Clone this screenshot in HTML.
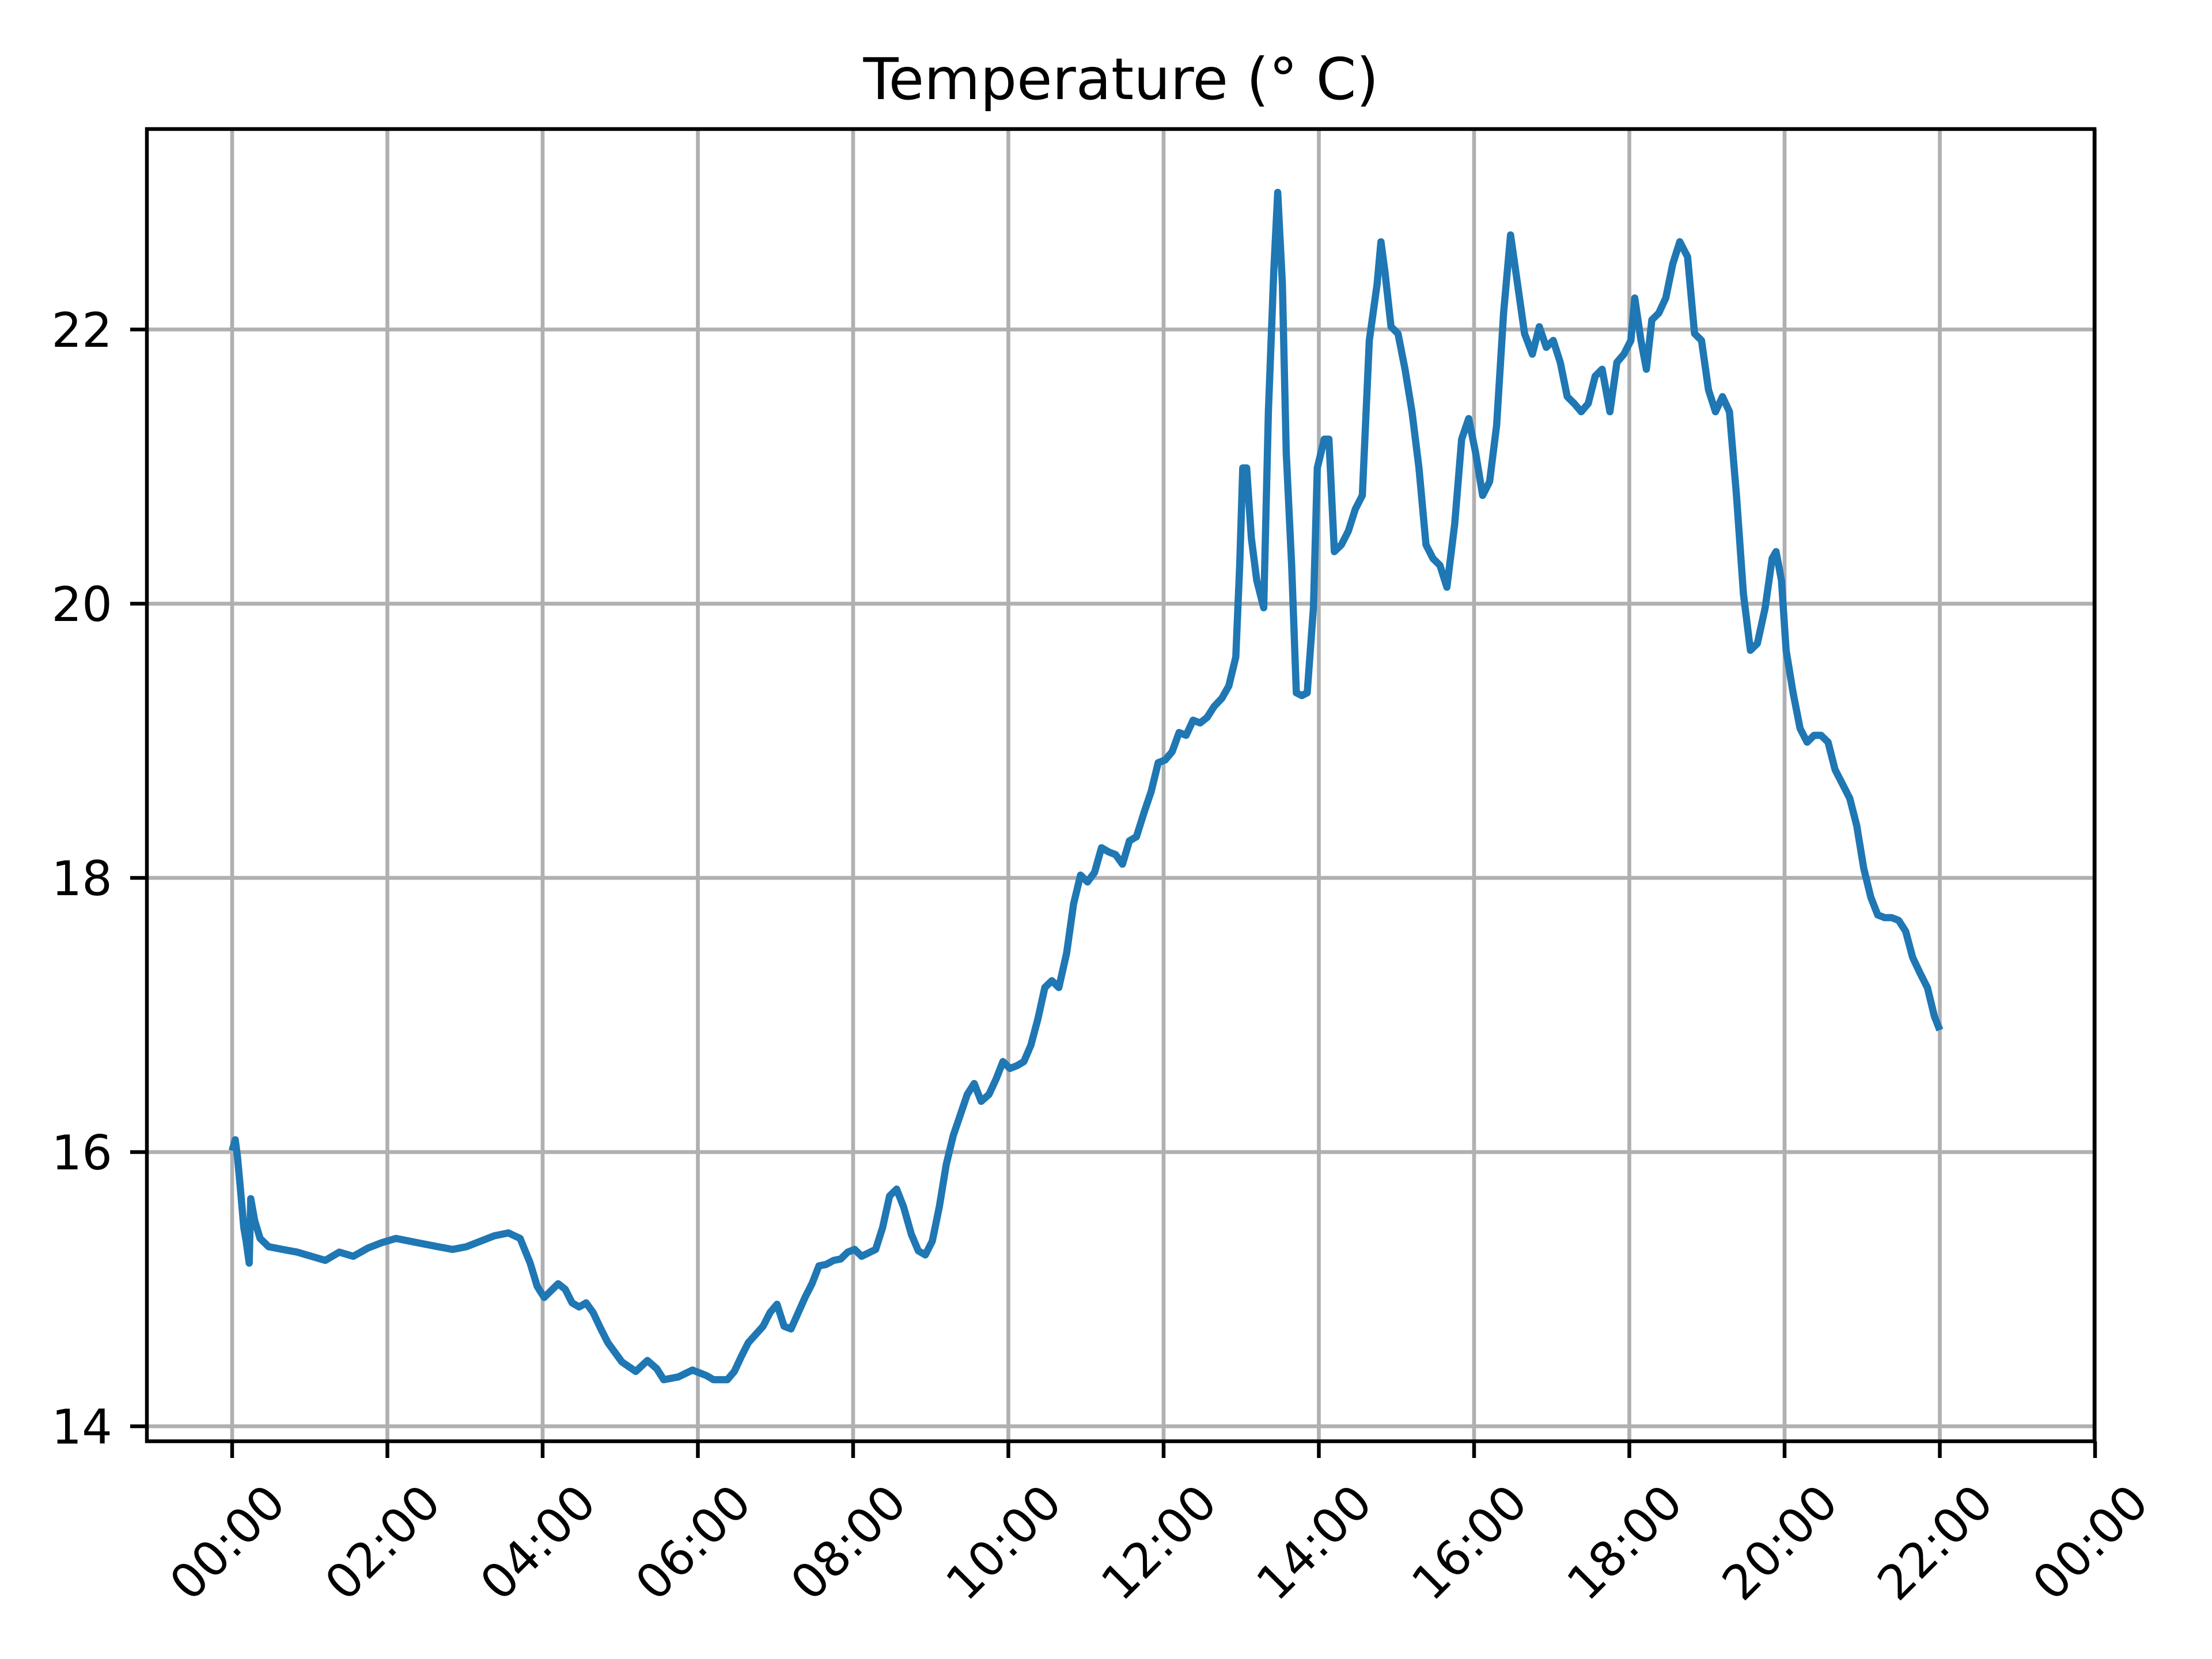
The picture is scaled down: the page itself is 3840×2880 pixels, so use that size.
<!DOCTYPE html>
<html><head><meta charset="utf-8"><style>
html,body{margin:0;padding:0;background:#fff;}
svg{display:block;font-family:"DejaVu Sans","Liberation Sans",sans-serif;}
</style></head><body>
<svg id="chart" width="3840" height="2880" viewBox="0 0 3840 2880" xmlns="http://www.w3.org/2000/svg">
<rect width="3840" height="2880" fill="#fff"/>
<text x="1946" y="172" font-size="100" text-anchor="middle" fill="#000">Temperature (° C)</text>
<g id="grid"></g>
<g id="series"></g>
<rect x="255" y="224" width="3381" height="2278" fill="none" stroke="#000" stroke-width="6.5"/>
<g id="axes"></g>
</svg>
<script>
const hours = [0,0.04,0.07,0.11,0.15,0.18,0.22,0.24,0.29,0.36,0.47,0.65,0.84,1.02,1.2,1.38,1.56,1.75,1.93,2.11,2.29,2.47,2.65,2.84,3.02,3.2,3.38,3.56,3.71,3.84,3.93,4.02,4.11,4.2,4.29,4.38,4.47,4.56,4.65,4.75,4.84,5.02,5.2,5.35,5.47,5.56,5.75,5.93,6.11,6.2,6.38,6.47,6.56,6.65,6.84,6.93,7.02,7.11,7.2,7.38,7.47,7.56,7.65,7.75,7.84,7.93,8.02,8.11,8.29,8.38,8.47,8.56,8.65,8.75,8.84,8.93,9.02,
9.11,9.2,9.29,9.38,9.47,9.56,9.65,9.75,9.84,9.93,10.02,10.11,10.2,10.29,10.38,10.47,10.56,10.65,10.75,10.84,10.93,11.02,11.11,11.2,11.29,11.38,11.47,11.56,11.65,11.75,11.84,11.93,12.02,12.11,12.2,12.29,12.38,12.47,12.56,12.65,12.75,12.84,12.93,
12.98,13.02,13.07,13.13,13.2,13.29,13.35,13.42,13.47,13.53,13.58,13.65,13.71,13.78,13.85,13.93,13.98,14.07,14.13,14.2,14.29,14.38,14.47,14.56,14.65,14.75,14.8,14.85,14.93,15.02,15.11,15.2,15.29,15.38,15.47,15.56,15.65,15.75,15.84,15.93,16.02,16.11,16.2,16.29,16.38,16.47,16.56,16.65,16.75,16.84,16.93,17.02,17.11,17.2,17.29,17.38,17.47,17.56,17.65,17.75,17.84,17.93,18.02,18.07,18.15,18.22,18.29,18.38,18.47,18.56,18.65,18.75,18.84,18.93,19.02,19.11,19.2,19.29,19.38,19.47,19.56,19.65,19.75,19.84,19.89,19.96,20.02,20.11,20.2,20.29,20.38,20.47,20.56,20.65,20.75,20.84,20.93,21.02,21.11,21.2,21.29,21.38,21.47,21.56,21.65,21.75,21.84,21.93,22.0];
const temps = [16.01,16.09,15.96,15.71,15.45,15.35,15.19,15.66,15.50,15.37,15.31,15.29,15.27,15.24,15.21,15.27,15.24,15.30,15.34,15.37,15.35,15.33,15.31,15.29,15.31,15.35,15.39,15.41,15.37,15.19,15.02,14.94,14.99,15.04,15.00,14.90,14.87,14.90,14.83,14.71,14.61,14.47,14.40,14.48,14.42,14.34,14.36,14.41,14.37,14.34,14.34,14.40,14.51,14.61,14.73,14.83,14.89,14.73,14.71,14.94,15.04,15.17,15.18,15.21,15.22,15.27,15.29,15.24,15.29,15.45,15.68,15.73,15.60,15.40,15.28,15.25,15.35,
15.60,15.91,16.12,16.27,16.42,16.50,16.37,16.42,16.53,16.66,16.61,16.63,16.66,16.78,16.97,17.20,17.25,17.20,17.45,17.81,18.02,17.97,18.04,18.22,18.19,18.17,18.10,18.27,18.30,18.48,18.63,18.84,18.86,18.92,19.06,19.04,19.15,19.13,19.17,19.25,19.31,19.40,19.61,
20.28,20.99,20.99,20.48,20.17,19.97,21.40,22.43,23.00,22.33,21.10,20.28,19.35,19.33,19.35,19.97,20.99,21.20,21.20,20.38,20.43,20.53,20.69,20.79,21.92,22.33,22.64,22.43,22.02,21.97,21.71,21.40,20.99,20.43,20.33,20.28,20.12,20.58,21.20,21.35,21.10,20.79,20.89,21.30,22.12,22.69,22.33,21.97,21.82,22.02,21.87,21.92,21.76,21.51,21.46,21.40,21.46,21.66,21.71,21.40,21.76,21.82,21.92,22.23,21.92,21.71,22.07,22.12,22.23,22.48,22.64,22.53,21.97,21.92,21.56,21.40,21.51,21.40,20.79,20.07,19.66,19.71,19.97,20.33,20.38,20.17,19.66,19.35,19.09,18.99,19.04,19.04,18.99,18.79,18.68,18.58,18.38,18.07,17.86,17.73,17.71,17.71,17.69,17.61,17.42,17.30,17.20,16.99,16.89];
const yTicks = [14,16,18,20,22];
const xTickHours = [0,2,4,6,8,10,12,14,16,18,20,22,24];
const xTickLabels = ["00:00","02:00","04:00","06:00","08:00","10:00","12:00","14:00","16:00","18:00","20:00","22:00","00:00"];

const NS = "http://www.w3.org/2000/svg";
const X = h => 403 + h * 134.75;
const Y = v => 572 + (22 - v) * 238;
function mk(tag, attrs, parent){const e=document.createElementNS(NS,tag);for(const k in attrs)e.setAttribute(k,attrs[k]);parent.appendChild(e);return e;}
const grid=document.getElementById('grid'), axes=document.getElementById('axes'), series=document.getElementById('series');

xTickHours.forEach((h,i)=>{
  const gx=mk('line',{x1:X(h),x2:X(h),y1:224,y2:2502,stroke:'#b0b0b0','stroke-width':6.7},grid);
  
  
  const t=mk('line',{x1:X(h),x2:X(h),y1:2502,y2:2531,stroke:'#000','stroke-width':6.5},axes);
  
  
  const cx=X(h)-8, cy=2678;
  const lb=mk('text',{x:cx,y:cy,'font-size':83,'text-anchor':'middle','dominant-baseline':'central',transform:`rotate(-45 ${cx} ${cy})`,fill:'#000'},axes);
  lb.textContent=xTickLabels[i];
  
  
});
yTicks.forEach(v=>{
  const gy=mk('line',{x1:255,x2:3636,y1:Y(v),y2:Y(v),stroke:'#b0b0b0','stroke-width':6.7},grid);
  
  
  const t=mk('line',{x1:226,x2:255,y1:Y(v),y2:Y(v),stroke:'#000','stroke-width':6.5},axes);
  
  
  const lb=mk('text',{x:195,y:Y(v)+30,'font-size':83,'text-anchor':'end',fill:'#000'},axes);
  lb.textContent=String(v);
  
  
});
const d=hours.map((h,i)=>(i?'L':'M')+X(h).toFixed(1)+' '+Y(temps[i]).toFixed(1)).join(' ');
const line=mk('path',{d:d,fill:'none',stroke:'#1f77b4','stroke-width':12.5,'stroke-linejoin':'round'},series);


</script>
</body></html>
